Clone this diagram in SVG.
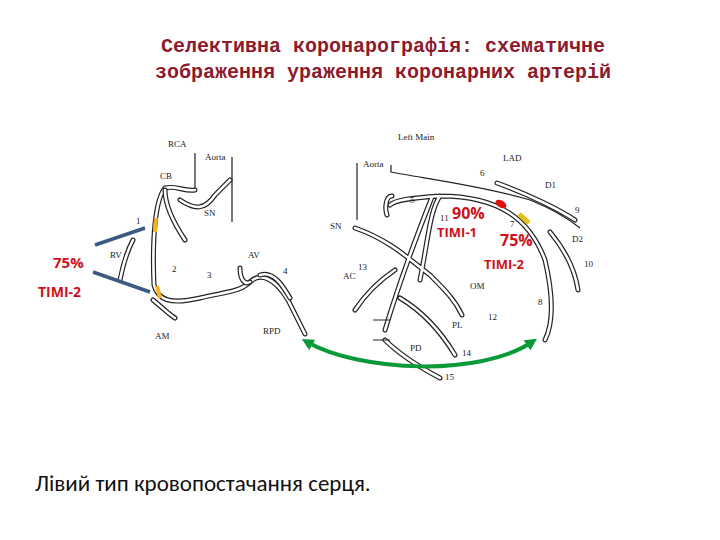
<svg xmlns="http://www.w3.org/2000/svg" width="720" height="540" viewBox="0 0 720 540">
<style>
.t{font-family:"Liberation Serif",serif;font-size:9px;fill:#222}
.v{fill:none;stroke:#222;stroke-width:5;stroke-linecap:round}
.w{fill:none;stroke:#fff;stroke-width:2.6;stroke-linecap:round}
.l{fill:none;stroke:#222;stroke-width:1.2}
.r{font-family:"Open Sans","Liberation Sans",sans-serif;font-weight:bold;fill:#d0101a}
.ttl{font-family:"Liberation Mono",monospace;font-weight:bold;font-size:20px;fill:#8c1a2c;text-anchor:middle}
</style>
<defs>
<marker id="g" viewBox="0 0 10 10" refX="5" refY="5" markerWidth="3" markerHeight="3" orient="auto-start-reverse"><path d="M0,0L10,5L0,10Z" fill="#0a9a3a"/></marker>
</defs>
<g id="title">
<text class="ttl" x="383" y="52">Селективна коронарографія:  схематичне</text>
<text class="ttl" x="383" y="78">зображення ураження коронарних артерій</text>
</g>
<g id="rca">
<path class="l" d="M195,153V190M232,157V222"/>
<path class="v" d="M195,190C185,192 175,185 165,188C155,200 152,240 154,285C158,300 170,305 200,298C225,292 240,292 250,282C260,272 275,278 288,300L305,334"/>
<path class="w" d="M195,190C185,192 175,185 165,188C155,200 152,240 154,285C158,300 170,305 200,298C225,292 240,292 250,282C260,272 275,278 288,300L305,334"/>
<path class="v" d="M165,190C165,205 175,225 185,240M180,200C195,210 205,210 215,195C220,190 225,185 230,180M260,275C275,270 285,290 290,298M240,268C240,280 245,285 250,282M133,240C125,255 122,270 120,280M153,300C165,310 170,315 175,318"/>
<path class="w" d="M165,190C165,205 175,225 185,240M180,200C195,210 205,210 215,195C220,190 225,185 230,180M260,275C275,270 285,290 290,298M240,268C240,280 245,285 250,282M133,240C125,255 122,270 120,280M153,300C165,310 170,315 175,318"/>
<path d="M156,218L155,232M157,286L160,298" stroke="#f3b323" stroke-width="4"/>
<path d="M95,245L145,228M93,272L150,292" stroke="#3a5a80" stroke-width="3.5"/>
<text class="t" x="168" y="147">RCA</text><text class="t" x="205" y="160">Aorta</text><text class="t" x="160" y="179">CB</text><text class="t" x="204" y="216">SN</text><text class="t" x="136" y="224">1</text><text class="t" x="110" y="258">RV</text><text class="t" x="172" y="272">2</text><text class="t" x="207" y="278">3</text><text class="t" x="248" y="258">AV</text><text class="t" x="283" y="274">4</text><text class="t" x="155" y="339">AM</text><text class="t" x="263" y="334">RPD</text>
<text class="r" x="53" y="268" font-size="15">75%</text>
<text class="r" x="38" y="297" font-size="14" fill="#a01020">TIMI-2</text>
</g>
<g id="lca">
<path class="l" d="M357,163V220M391,165V172C420,178 480,185 530,200C555,210 570,220 580,228"/>
<path class="v" d="M497,183C530,195 560,210 575,220M440,196C500,196 530,220 545,260C552,290 555,320 545,340M440,196C430,210 428,240 420,280M390,205C395,200 410,198 440,196M432,197C415,240 400,280 385,330M385,340C400,355 425,370 440,378M355,228C390,240 410,260 430,275C445,290 455,300 462,315M395,270C380,280 365,295 355,310M400,298C420,310 440,330 455,355M550,232C565,250 575,270 578,290M392,196C385,196 385,210 387,215"/>
<path class="w" d="M497,183C530,195 560,210 575,220M440,196C500,196 530,220 545,260C552,290 555,320 545,340M440,196C430,210 428,240 420,280M390,205C395,200 410,198 440,196M432,197C415,240 400,280 385,330M385,340C400,355 425,370 440,378M355,228C390,240 410,260 430,275C445,290 455,300 462,315M395,270C380,280 365,295 355,310M400,298C420,310 440,330 455,355M550,232C565,250 575,270 578,290M392,196C385,196 385,210 387,215"/>
<path class="l" d="M373,320H390M373,340H390"/>
<ellipse cx="501" cy="204" rx="6" ry="3.5" transform="rotate(30 501 204)" fill="#e01010"/>
<path d="M519,214L529,223" stroke="#e8c018" stroke-width="5"/>
<text class="t" x="398" y="140">Left Main</text><text class="t" x="503" y="161">LAD</text><text class="t" x="363" y="167">Aorta</text><text class="t" x="480" y="176">6</text><text class="t" x="545" y="188">D1</text><text class="t" x="575" y="213">9</text><text class="t" x="410" y="203">5</text><text class="t" x="330" y="229">SN</text><text class="t" x="440" y="221">11</text><text class="t" x="510" y="227">7</text><text class="t" x="572" y="242">D2</text><text class="t" x="584" y="267">10</text><text class="t" x="358" y="270">13</text><text class="t" x="343" y="279">AC</text><text class="t" x="470" y="289">OM</text><text class="t" x="538" y="305">8</text><text class="t" x="488" y="320">12</text><text class="t" x="452" y="328">PL</text><text class="t" x="410" y="351">PD</text><text class="t" x="462" y="356">14</text><text class="t" x="445" y="380">15</text>
<text class="r" x="452" y="219" font-size="16">90%</text>
<text class="r" x="437" y="237" font-size="13">TIMI-1</text>
<text class="r" x="500" y="246" font-size="16">75%</text>
<text class="r" x="484" y="269" font-size="13">TIMI-2</text>
</g>
<g id="connectors">
<path d="M307,342C360,372 480,377 532,342" fill="none" stroke="#0a9a3a" stroke-width="4" marker-start="url(#g)" marker-end="url(#g)"/>
</g>
<text x="35" y="491" font-family="Carlito,'Liberation Sans',sans-serif" font-size="23" fill="#111">Лівий тип кровопостачання серця.</text>
</svg>
